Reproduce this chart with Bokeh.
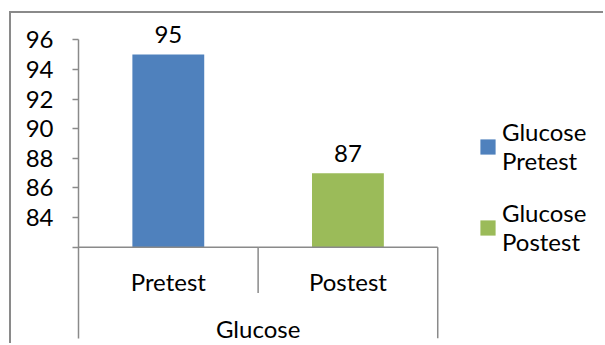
from bokeh.plotting import figure
from bokeh.models import Range1d, FixedTicker, Legend, LegendItem, ColumnDataSource
from bokeh.core.properties import value
from bokeh.embed import file_html
from bokeh.resources import INLINE

# data
group = "Glucose"
phases = ["Pretest", "Postest"]
glucose = [95, 87]
series_labels = ["Glucose\nPretest", "Glucose\nPostest"]
bar_colors = ["#4F81BD", "#9BBB59"]
y_ticks = [82, 84, 86, 88, 90, 92, 94, 96]

axis_floor = 82
axis_top = 96
y_low, y_high = 75.837, 97.303
divider_low = [78.9, y_low]   # inner divider is shorter than the outer frame line

FONT = "Lato"
FONT_SIZE = "24px"
GRAY = "#8a8a8a"

# one unit per category cell; the plot area continues to the right for the legend
n = len(phases)
cell_left = list(range(n))
cell_right = [i + 1 for i in cell_left]
cell_mid = [i + 0.5 for i in cell_left]
x_end = 2.934

src = ColumnDataSource(dict(
    x=cell_mid,
    left=cell_left,
    right=cell_right,
    value=glucose,
    label=[str(v) for v in glucose],
    phase=phases,
    color=bar_colors,
    floor=[axis_floor] * n,
    div_low=divider_low,
))

p = figure(
    x_range=Range1d(0, x_end),
    y_range=Range1d(y_low, y_high),
    width=594, height=332,
    min_border_left=67, min_border_right=0,
    min_border_top=7, min_border_bottom=7,
    output_backend="svg", toolbar_location=None,
    margin=(11, 0, 0, 9),
    styles={"border-top": f"2px solid {GRAY}", "border-left": f"2px solid {GRAY}"},
)
p.outline_line_color = None
p.xgrid.visible = False
p.ygrid.visible = False
p.xaxis.visible = False

# bars
bars = p.vbar(x="x", top="value", bottom="floor", width=0.4,
              fill_color="color", line_color=None, source=src)

# value labels above the bars
p.text(x="x", y="value", text="label", source=src,
       text_align="center", text_baseline="alphabetic", y_offset=-20,
       text_font=value(FONT), text_font_size=FONT_SIZE, text_color="black")

# category axis: baseline across each cell, dividers on the cell edges
p.segment(x0="left", x1="right", y0="floor", y1="floor", source=src,
          line_color=GRAY, line_width=1.5)
p.segment(x0="right", x1="right", y0="floor", y1="div_low", source=src,
          line_color=GRAY, line_width=1.5)
p.text(x="x", y="floor", text="phase", source=src,
       text_align="center", text_baseline="middle", y_offset=34,
       text_font=value(FONT), text_font_size=FONT_SIZE, text_color="black")

grp = ColumnDataSource(dict(x=[sum(cell_mid) / n], floor=[axis_floor], name=[group]))
p.text(x="x", y="floor", text="name", source=grp,
       text_align="center", text_baseline="middle", y_offset=81,
       text_font=value(FONT), text_font_size=FONT_SIZE, text_color="black")

# value axis
yax = p.yaxis[0]
yax.ticker = FixedTicker(ticks=y_ticks)
yax.major_label_overrides = {axis_floor: ""}
yax.bounds = (y_low, axis_top)
yax.axis_line_color = GRAY
yax.axis_line_width = 1.5
yax.major_tick_line_color = GRAY
yax.major_tick_line_width = 1.5
yax.major_tick_out = 6
yax.major_tick_in = 0
yax.minor_tick_line_color = None
yax.major_label_standoff = 19
yax.major_label_text_font = FONT
yax.major_label_text_font_size = FONT_SIZE
yax.major_label_text_color = "black"

# legend in the open area right of the category cells
legend = Legend(
    items=[LegendItem(label=lab, renderers=[bars], index=i)
           for i, lab in enumerate(series_labels)],
    location=(400, 82), margin=0, padding=0, spacing=23,
    glyph_width=19, glyph_height=19, label_standoff=5,
    label_text_font=FONT, label_text_font_size=FONT_SIZE,
    label_text_line_height=1.28, label_text_color="black",
    border_line_color=None, background_fill_alpha=0,
)
p.add_layout(legend)

open("out.html", "w").write(file_html(p, INLINE))
